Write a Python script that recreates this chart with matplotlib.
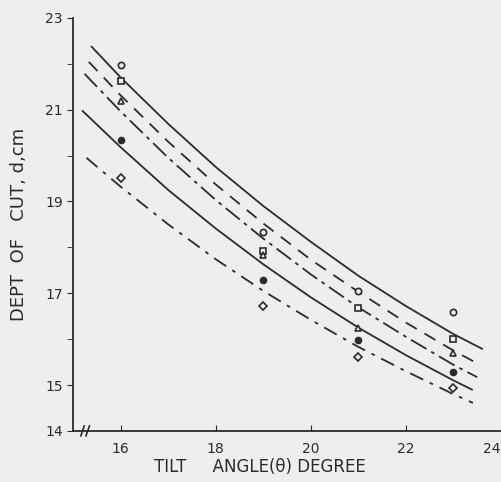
import matplotlib.pyplot as plt
import numpy as np

# valores
angulos = [16, 19, 21, 23]
prof_circulo = [21.98, 18.34, 17.05, 16.59]
prof_cuadrado = [21.63, 17.92, 16.68, 16.01]
prof_triangulo = [21.19, 17.84, 16.25, 15.70]
prof_lleno = [20.34, 17.29, 15.98, 15.29]
prof_rombo = [19.51, 16.73, 15.61, 14.94]

# curvas ajustadas (puntos leidos a lo largo de cada curva)
x_c1 = [15.39, 16, 17, 18, 19, 20, 21, 22, 23, 23.60]
y_c1 = [22.37, 21.70, 20.69, 19.75, 18.90, 18.12, 17.38, 16.72, 16.11, 15.79]
x_c2 = [15.33, 16, 17, 18, 19, 20, 21, 22, 23, 23.52]
y_c2 = [22.04, 21.31, 20.30, 19.37, 18.52, 17.73, 17.03, 16.36, 15.75, 15.46]
x_c3 = [15.24, 16, 17, 18, 19, 20, 21, 22, 23, 23.50]
y_c3 = [21.78, 20.96, 19.95, 19.03, 18.19, 17.41, 16.69, 16.05, 15.44, 15.17]
x_c4 = [15.20, 16, 17, 18, 19, 20, 21, 22, 23, 23.39]
y_c4 = [20.97, 20.18, 19.25, 18.41, 17.63, 16.91, 16.25, 15.65, 15.10, 14.90]
x_c5 = [15.28, 16, 17, 18, 19, 20, 21, 22, 23, 23.41]
y_c5 = [19.95, 19.32, 18.50, 17.74, 17.05, 16.42, 15.83, 15.30, 14.80, 14.61]

xticks = [16, 18, 20, 22, 24]
yticks = [14, 15, 17, 19, 21, 23]

tinta = '#2b2b2b'
fondo = '#eeeeee'

fig = plt.figure(figsize=(5.01, 4.82), dpi=100, facecolor=fondo)
ax = fig.add_axes([0.146, 0.106, 0.854, 0.857])
ax.set_facecolor(fondo)

# curvas
ax.plot(x_c1, y_c1, color=tinta, lw=1.3, linestyle='-')
ax.plot(x_c2, y_c2, color=tinta, lw=1.3, dashes=(7, 5))
ax.plot(x_c3, y_c3, color=tinta, lw=1.3, dashes=(10, 3, 2, 3))
ax.plot(x_c4, y_c4, color=tinta, lw=1.3, linestyle='-')
ax.plot(x_c5, y_c5, color=tinta, lw=1.3, dashes=(8, 4, 2, 4))

# puntos
ax.plot(angulos, prof_circulo, 'o', ms=4.5, mfc=fondo, mec=tinta, mew=1.2)
ax.plot(angulos, prof_cuadrado, 's', ms=4.5, mfc=fondo, mec=tinta, mew=1.2)
ax.plot(angulos, prof_triangulo, '^', ms=5, mfc=fondo, mec=tinta, mew=1.2)
ax.plot(angulos, prof_lleno, 'o', ms=4.5, mfc=tinta, mec=tinta)
ax.plot(angulos, prof_rombo, 'D', ms=4, mfc=fondo, mec=tinta, mew=1.2)

ax.set_xlim(15, 24)
ax.set_ylim(14, 23)

ax.spines['top'].set_visible(False)
ax.spines['right'].set_visible(False)
ax.spines['left'].set_color(tinta)
ax.spines['bottom'].set_color(tinta)
ax.spines['left'].set_linewidth(1.3)
ax.spines['bottom'].set_linewidth(1.3)

ax.set_xticks(xticks)
ax.set_xticklabels([str(t) for t in xticks])
ax.set_yticks(yticks)
ax.set_yticklabels([str(t) for t in yticks])
ax.set_yticks([16, 18, 20, 22], minor=True)
ax.tick_params(axis='x', direction='in', length=4, color=tinta, labelsize=10, labelcolor=tinta, pad=8)
ax.tick_params(axis='y', direction='out', length=4, color=tinta, labelsize=10, labelcolor=tinta)
ax.tick_params(axis='y', which='minor', direction='out', length=4, color=tinta)
# la etiqueta del borde derecho queda dentro de la figura
ax.get_xticklabels()[-1].set_horizontalalignment('right')

# marca de corte del eje x
for xb in [0.022, 0.034]:
    ax.plot([xb - 0.004, xb + 0.004], [-0.012, 0.012], transform=ax.transAxes,
            color=tinta, lw=1.2, clip_on=False)

ax.set_xlabel('TILT     ANGLE(θ) DEGREE', fontsize=12, color=tinta)
ax.xaxis.set_label_coords(0.437, -0.065)
ax.set_ylabel('DEPT  OF   CUT, d,cm', fontsize=13, color=tinta)
ax.yaxis.set_label_coords(-0.105, 0.5)

plt.savefig('out.png', dpi=100, facecolor=fondo)
